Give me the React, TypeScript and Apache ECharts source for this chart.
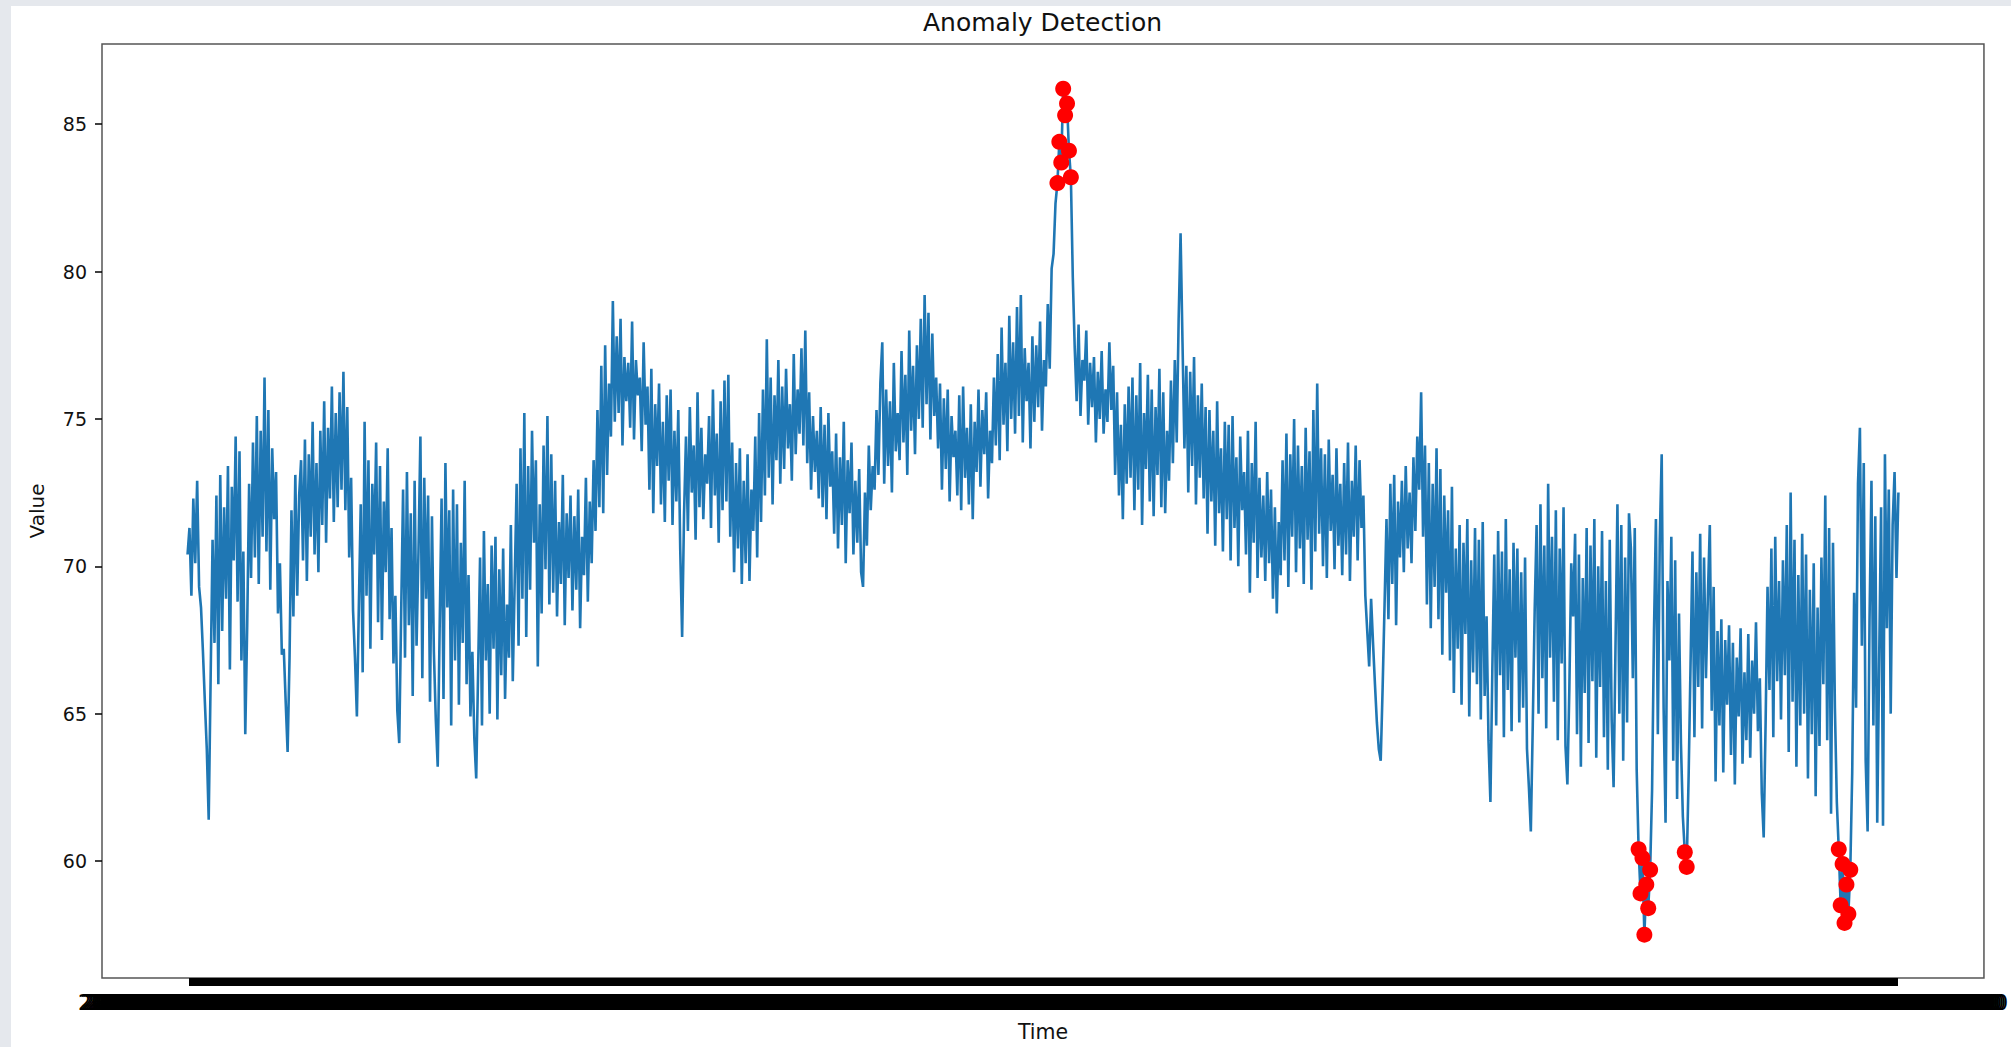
import React, { useEffect, useRef } from "react";
import * as echarts from "echarts";

// Sensor readings, one per hour, split into consecutive stretches.
const segmentA = [
  70.4, 71.3, 69.0, 72.3, 70.1, 72.9, 69.3, 68.6, 67.1, 65.4,
  63.8, 61.4, 66.2, 70.9, 67.4, 72.4, 66.0, 73.1, 67.8, 72.0,
  68.9, 73.4, 66.5, 72.7, 70.2, 74.4, 68.8, 73.9, 66.8, 70.5,
  64.3, 68.0, 72.8, 69.6, 74.2, 70.3, 75.1, 69.4, 74.6, 71.0,
  76.4, 70.5, 75.3, 69.2, 74.0, 71.6, 73.2, 68.4, 70.1, 67.0,
  67.2, 65.4, 63.7, 66.9, 71.9, 68.3, 73.1, 69.0, 72.4, 73.6,
  70.2, 74.3, 69.5, 73.8, 71.0, 74.9, 70.4, 73.5, 69.8, 74.6,
  71.4, 75.6, 70.8, 74.7, 72.3, 76.1, 71.5, 75.2, 72.0, 75.9,
  72.6, 76.6, 71.9, 75.4, 70.3, 73.0, 68.5, 66.9, 64.9, 68.6,
  72.1, 66.4, 74.9, 69.0, 73.6, 67.2, 72.8, 70.4, 74.2, 68.1,
  73.4, 67.5, 72.2, 69.8, 74.0, 68.2, 71.3, 66.7, 69.0, 65.1,
];
const segmentB = [
  64.0, 68.4, 72.6, 66.9, 73.2, 68.0, 71.8, 65.6, 72.9, 67.3,
  70.5, 74.4, 66.2, 73.0, 68.9, 72.4, 65.4, 71.7, 67.1, 64.8,
  63.2, 67.9, 72.3, 65.5, 73.5, 68.6, 71.9, 64.6, 72.6, 66.8,
  72.1, 65.3, 70.8, 67.4, 72.9, 66.0, 69.7, 64.9, 67.1, 64.2,
  62.8, 66.5, 70.3, 64.6, 71.2, 66.8, 69.4, 65.0, 70.7, 67.2,
  71.0, 64.8, 69.9, 66.3, 70.6, 65.5, 68.7, 66.9, 71.4, 66.1,
  69.5, 72.8, 67.3, 74.0, 68.9, 75.2, 67.6, 73.4, 69.2, 74.6,
  70.8, 73.6, 66.6, 72.1, 68.4, 74.1, 69.9, 75.1, 68.7, 73.8,
  69.1, 72.9, 68.3, 71.5, 69.4, 73.1, 68.0, 71.8, 69.6, 72.4,
  68.5, 71.7, 69.2, 72.6, 67.9, 71.0, 69.7, 73.0, 68.8, 72.2,
  70.1, 73.6, 71.2, 75.3, 72.0, 76.8, 71.8, 77.5, 73.1, 76.2,
];
const segmentC = [
  74.4, 79.0, 74.9, 77.8, 75.2, 78.4, 74.1, 77.1, 75.6, 76.9,
  74.7, 78.3, 74.3, 77.0, 75.8, 76.4, 73.9, 77.6, 74.8, 76.1,
  72.6, 76.7, 71.8, 75.5, 73.4, 76.2, 72.1, 74.9, 71.5, 75.8,
  72.9, 76.0, 71.4, 74.6, 72.2, 75.3, 70.6, 67.6, 71.8, 74.4,
  71.2, 75.4, 72.5, 74.1, 70.9, 75.9, 72.0, 74.7, 71.6, 73.8,
  72.8, 75.1, 71.3, 76.0, 72.4, 74.5, 70.8, 75.6, 71.9, 76.3,
  72.2, 76.5, 71.0, 74.2, 69.8, 73.5, 70.6, 74.0, 69.4, 72.9,
  70.1, 73.8, 69.5, 72.6, 71.2, 74.4, 70.3, 75.2, 71.5, 76.0,
  72.4, 77.7, 73.0, 76.4, 72.1, 75.8, 73.6, 77.0, 72.8, 76.1,
  73.3, 76.7, 74.0, 75.5, 72.9, 77.2, 73.8, 76.0, 74.5, 77.4,
  74.1, 78.0, 73.5, 75.9, 72.6, 75.1, 73.2, 74.6, 72.3, 75.4,
];
const segmentD = [
  72.0, 74.8, 71.6, 75.2, 72.7, 73.9, 71.1, 74.5, 70.6, 73.7,
  71.4, 74.9, 70.1, 73.6, 71.8, 74.2, 70.4, 72.9, 70.8, 73.3,
  69.8, 69.3, 72.5, 70.7, 74.1, 71.9, 73.4, 72.6, 75.3, 73.1,
  76.2, 77.6, 72.8, 76.0, 73.4, 75.6, 72.5, 76.9, 73.9, 75.2,
  73.6, 77.3, 74.2, 76.5, 73.1, 78.0, 74.6, 76.8, 73.8, 77.5,
  75.0, 78.4, 74.7, 79.2, 75.5, 78.6, 74.3, 77.9, 75.1, 76.4,
  74.0, 76.2, 72.6, 75.7, 73.3, 76.0, 72.2, 75.1, 73.7, 74.6,
  72.4, 75.8, 71.9, 76.1, 73.0, 74.7, 72.1, 75.5, 71.6, 74.9,
  73.2, 76.0, 72.7, 75.3, 73.8, 75.9, 72.3, 74.6, 73.5, 76.4,
  74.1, 77.2, 73.6, 78.1, 74.8, 76.9, 73.9, 78.5, 75.0, 77.6,
  74.5, 78.8, 75.1, 79.2, 74.2, 77.4, 75.6, 76.9, 74.0, 77.8,
];
const segmentE = [
  74.9, 77.5, 75.4, 78.3, 74.6, 77.0, 76.1, 78.9, 76.7, 80.1,
  80.6, 82.3, 83.0, 84.4, 83.7, 86.2, 85.3, 85.7, 84.1, 83.2,
  79.8, 77.4, 75.6, 78.2, 75.1, 77.0, 76.3, 78.0, 74.8, 76.9,
  75.4, 77.1, 74.2, 76.6, 75.0, 77.3, 74.5, 76.0, 74.9, 77.6,
  75.3, 76.8, 73.1, 75.9, 72.4, 74.8, 71.6, 75.5, 72.8, 76.1,
  73.0, 76.4, 71.9, 75.8, 72.6, 76.9, 71.4, 75.2, 73.3, 76.5,
  72.2, 76.0, 71.7, 75.4, 73.1, 76.7, 72.0, 75.9, 71.8, 74.6,
  72.9, 76.3, 73.5, 77.0, 74.2, 78.4, 81.3, 77.6, 74.0, 76.8,
  72.5, 76.6, 73.4, 77.1, 72.1, 75.8, 73.0, 76.2, 72.3, 75.4,
  71.1, 75.3, 72.2, 74.6, 70.7, 75.6, 71.8, 74.0, 70.5, 74.9,
  71.6, 74.8, 70.2, 75.1, 71.3, 73.7, 70.0, 74.4, 71.9, 73.2,
];
const segmentF = [
  70.4, 74.6, 69.1, 73.5, 70.8, 74.9, 69.6, 73.0, 70.3, 72.4,
  69.5, 73.2, 70.1, 72.6, 68.9, 72.0, 68.4, 71.5, 69.7, 73.6,
  70.2, 74.5, 69.3, 73.8, 71.0, 75.0, 69.8, 74.1, 70.6, 73.4,
  69.4, 74.7, 70.9, 73.9, 69.2, 75.3, 70.5, 76.2, 71.1, 74.0,
  70.0, 73.8, 69.6, 74.3, 71.2, 73.1, 69.9, 74.0, 70.7, 72.8,
  69.7, 73.5, 70.4, 74.2, 69.5, 72.9, 71.0, 74.1, 70.2, 73.6,
  71.3, 72.4, 69.0, 67.8, 66.6, 68.9, 67.4, 66.0, 64.7, 63.8,
  63.4, 65.9, 68.7, 71.6, 68.2, 72.8, 69.4, 73.1, 68.0, 72.2,
  70.3, 72.9, 69.8, 73.4, 70.6, 72.5, 70.1, 73.7, 71.2, 74.4,
  72.6, 75.9, 71.0, 74.1, 68.7, 73.5, 67.9, 72.8, 69.3, 74.0,
  68.2, 73.3, 67.0, 72.4, 69.1, 71.9, 66.8, 72.7, 65.7, 70.6,
];
const segmentG = [
  67.2, 71.4, 65.3, 70.8, 67.7, 71.6, 64.9, 70.2, 66.4, 71.3,
  66.0, 70.9, 64.8, 71.5, 65.6, 68.3, 64.1, 62.0, 66.5, 70.4,
  64.6, 71.2, 66.3, 70.5, 64.2, 71.6, 65.8, 69.9, 64.4, 70.8,
  66.9, 70.6, 64.7, 69.8, 65.2, 70.3, 63.8, 62.5, 61.0, 64.6,
  68.5, 71.4, 65.0, 72.1, 66.2, 70.7, 64.5, 72.8, 66.9, 71.0,
  65.4, 71.9, 64.1, 70.6, 66.7, 72.0, 63.9, 62.6, 65.8, 70.1,
  68.3, 71.1, 64.3, 70.4, 63.2, 69.6, 65.7, 71.3, 64.0, 70.7,
  66.1, 71.6, 63.5, 70.0, 65.9, 71.2, 64.2, 69.5, 63.1, 70.9,
  64.8, 62.5, 67.3, 72.1, 65.0, 71.4, 63.4, 70.3, 64.7, 71.8,
  70.6, 66.2, 71.3, 63.1, 60.4, 58.9, 60.1, 57.5, 59.2, 58.4,
  59.7, 62.4, 67.8, 71.6, 64.3, 70.9, 73.8, 65.2, 61.3, 69.5,
];
const segmentH = [
  66.8, 71.0, 63.4, 70.2, 62.1, 68.4, 64.0, 61.5, 60.3, 59.8,
  62.9, 66.7, 70.5, 64.2, 69.8, 65.9, 71.1, 64.5, 70.3, 66.2,
  69.0, 71.4, 65.1, 69.3, 62.7, 67.8, 64.6, 68.2, 63.0, 67.5,
  65.3, 68.0, 63.6, 67.4, 62.6, 66.9, 64.9, 67.9, 63.3, 66.4,
  64.1, 67.7, 63.5, 66.8, 65.0, 68.1, 64.4, 66.2, 62.3, 60.8,
  64.7, 69.3, 65.8, 70.6, 64.2, 71.0, 66.1, 69.5, 64.8, 70.2,
  66.3, 71.4, 63.7, 72.5, 65.4, 70.9, 63.2, 69.7, 64.6, 71.1,
  65.0, 70.4, 62.8, 69.2, 64.3, 70.1, 62.2, 68.6, 63.9, 70.3,
  66.0, 72.4, 64.1, 71.3, 61.6, 70.8, 65.2, 62.0, 60.4, 58.5,
  59.9, 57.9, 59.2, 58.2, 59.7, 63.0, 69.1, 65.2, 72.8, 74.7,
  67.3, 73.5, 63.4, 61.0, 68.2, 72.9, 64.6, 71.7, 61.3, 66.8,
  72.0, 61.2, 73.8, 67.9, 72.6, 65.0, 71.4, 73.2, 69.6, 72.5,
];

const values = [
  ...segmentA, ...segmentB, ...segmentC, ...segmentD,
  ...segmentE, ...segmentF, ...segmentG, ...segmentH,
];

// Value axis limits and tick labels
const yTicks = [60, 65, 70, 75, 80, 85];
const yMin = 56.03;
const yMax = 87.72;

// Readings outside these bounds are flagged as anomalies
const upperBound = 82.9;
const lowerBound = 60.5;

// Hourly timestamps starting from the first reading
const firstReading = Date.UTC(2023, 0, 1, 0, 0, 0);
const hourMs = 3600 * 1000;
const pad2 = (n: number) => String(n).padStart(2, "0");
const timeLabels = values.map((_, i) => {
  const d = new Date(firstReading + i * hourMs);
  return `${d.getUTCFullYear()}-${pad2(d.getUTCMonth() + 1)}-${pad2(d.getUTCDate())} ${pad2(d.getUTCHours())}:00:00`;
});

const FONT = "DejaVu Sans";

export default function App() {
  const ref = useRef<HTMLDivElement | null>(null);

  useEffect(() => {
    if (!ref.current) return;
    const chart = echarts.init(ref.current, undefined, { renderer: "svg" });

    const n = values.length;
    const xPad = (n - 1) * 0.05;
    const positions = values.map((_, i) => i);
    const linePoints = values.map((v, i) => [i, v]);
    const anomalies = linePoints.filter(([, v]) => v > upperBound || v < lowerBound);

    chart.setOption({
      animation: false,
      backgroundColor: "#ffffff",
      textStyle: { fontFamily: FONT },
      title: {
        text: "Anomaly Detection",
        left: 918,
        top: 5,
        textStyle: { fontFamily: FONT, fontSize: 25, fontWeight: "normal", color: "#111111" },
      },
      graphic: [
        { type: "rect", shape: { x: 0, y: 0, width: 11, height: 1047 }, style: { fill: "#e5e8ed" }, silent: true },
        { type: "rect", shape: { x: 0, y: 0, width: 2011, height: 6 }, style: { fill: "#e5e8ed" }, silent: true },
      ],
      grid: {
        left: 102,
        right: 27,
        top: 44,
        bottom: 67,
        show: true,
        borderColor: "#555555",
        borderWidth: 1.5,
        backgroundColor: "transparent",
      },
      xAxis: {
        type: "value",
        min: -xPad,
        max: n - 1 + xPad,
        name: "Time",
        nameLocation: "middle",
        nameGap: 43,
        nameTextStyle: { fontFamily: FONT, fontSize: 20.5, color: "#111111" },
        axisLine: { show: false, onZero: false },
        splitLine: { show: false },
        axisTick: {
          show: true,
          customValues: positions,
          length: 8,
          lineStyle: { color: "#000000", width: 2 },
        },
        axisLabel: {
          customValues: positions,
          formatter: (v: number) => timeLabels[Math.round(v)] ?? "",
          fontFamily: FONT,
          fontSize: 21,
          color: "#000000",
          margin: 14,
          hideOverlap: false,
        },
      },
      yAxis: {
        type: "value",
        min: yMin,
        max: yMax,
        name: "Value",
        nameLocation: "middle",
        nameRotate: 90,
        nameGap: 55,
        nameTextStyle: { fontFamily: FONT, fontSize: 20, color: "#111111" },
        axisLine: { show: false, onZero: false },
        splitLine: { show: false },
        axisTick: {
          show: true,
          customValues: yTicks,
          length: 7,
          lineStyle: { color: "#000000", width: 1.5 },
        },
        axisLabel: {
          customValues: yTicks,
          fontFamily: FONT,
          fontSize: 19,
          color: "#111111",
          margin: 15,
        },
      },
      series: [
        {
          type: "line",
          data: linePoints,
          showSymbol: false,
          symbol: "none",
          lineStyle: { color: "#1f77b4", width: 2.6 },
          z: 2,
        },
        {
          type: "scatter",
          data: anomalies,
          symbol: "circle",
          symbolSize: 16,
          itemStyle: { color: "#ff0000", opacity: 1 },
          z: 3,
        },
      ],
    });

    return () => chart.dispose();
  }, []);

  return (
    <div
      ref={ref}
      style={{ position: "fixed", left: 0, top: 0, width: 2011, height: 1047 }}
    />
  );
}
